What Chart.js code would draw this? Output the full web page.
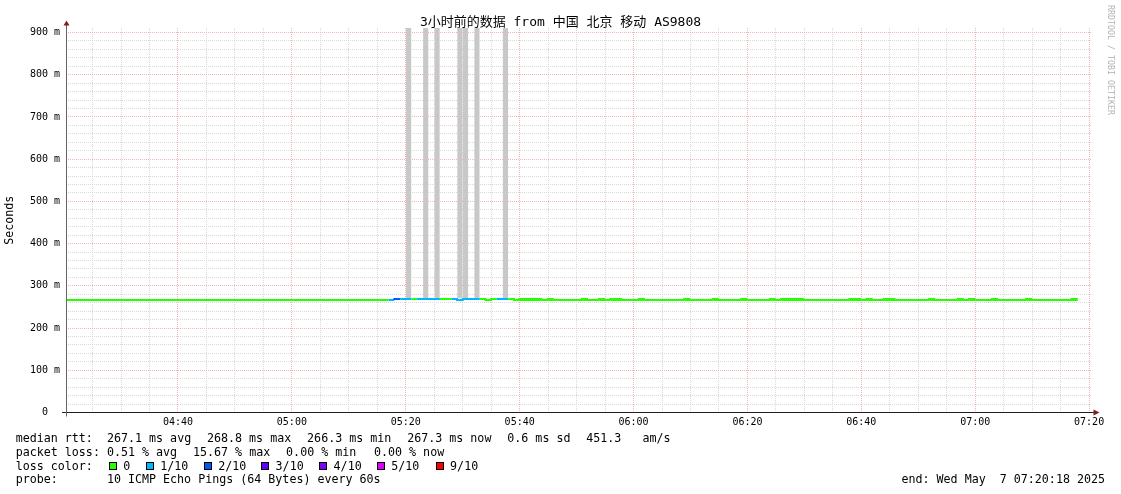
<!DOCTYPE html>
<html>
<head>
<meta charset="utf-8">
<title>SmokePing</title>
<script src="https://cdn.jsdelivr.net/npm/chart.js@4.4.1/dist/chart.umd.min.js"></script>
<style>
  body { margin: 0; background: #fff; }
  #wrap { position: relative; width: 1121px; height: 494px; overflow: hidden;
          font-family: "DejaVu Sans Mono", "Noto Sans CJK SC", monospace; color: #000; }
  #chart { position: absolute; left: 0; top: 0; }
  .txt { position: absolute; white-space: pre; font-size: 11.67px; line-height: 14px; }
  #title { position: absolute; left: 0; top: 13.5px; width: 1121px; text-align: center;
           font-size: 13px; line-height: 16px; white-space: pre; }
  #mark { position: absolute; left: 1115px; top: 4.5px; transform-origin: 0 0; transform: rotate(90deg);
          font-size: 8.3px; line-height: 8px; color: #b4b4b4; white-space: pre; }
  .sw { position: absolute; width: 6px; height: 6px; border: 1px solid #000; top: 462.3px; }
</style>
</head>
<body>
<div id="wrap">
  <canvas id="chart" width="1121" height="494"></canvas>
  <div id="title">3小时前的数据 from 中国 北京 移动 AS9808</div>
  <div id="mark">RRDTOOL / TOBI OETIKER</div>
  <div id="legend"></div>
  <div class="txt" style="left:15.7px;top:472.45px">probe:       10 ICMP Echo Pings (64 Bytes) every 60s</div>
  <div class="txt" style="left:901.5px;top:472.45px">end: Wed May  7 07:20:18 2025</div>
</div>
<script>
// time axis is in minutes after 04:00, window 04:20:20 .. 07:20:20
const X_MIN = 20.333;
const X_MAX = 200.333;
const Y_MAX = 910.7;

const xMajor = [40, 60, 80, 100, 120, 140, 160, 180, 200];
const xTickLabels = ['04:40', '05:00', '05:20', '05:40', '06:00', '06:20', '06:40', '07:00', '07:20'];
const yMajor = [0, 100, 200, 300, 400, 500, 600, 700, 800, 900];
const yTickLabels = ['0  ', '100 m', '200 m', '300 m', '400 m', '500 m', '600 m', '700 m', '800 m', '900 m'];

// one sample per minute, each value covers the minute ending at its time
const firstMinute = 20;
const median = [
  266.4, 266.4, 266.4, 266.4, 266.4, 266.4, 266.4, 266.4, 266.4, 266.4, // 04:20
  266.4, 266.4, 266.4, 266.4, 266.4, 266.4, 266.4, 266.4, 266.4, 266.4, // 04:30
  266.4, 266.4, 266.4, 266.4, 266.4, 266.4, 266.4, 266.4, 266.4, 266.4, // 04:40
  266.4, 266.4, 266.4, 266.4, 266.4, 266.4, 266.4, 266.4, 266.4, 266.4, // 04:50
  266.4, 266.4, 266.4, 266.4, 266.4, 266.4, 266.4, 266.4, 266.4, 266.4, // 05:00
  266.4, 266.4, 266.4, 266.4, 266.4, 266.4, 266.4, 266.4, 266.4, 268.8, // 05:10
  268.8, 268.8, 268.8, 268.8, 268.8, 268.8, 268.8, 268.8, 268.8, 268.8, // 05:20
  266.4, 268.8, 268.8, 268.8, 268.8, 266.4, 268.8, 268.8, 268.8, 268.8, // 05:30
  266.4, 267.6, 267.6, 267.6, 267.6, 266.4, 267.6, 266.4, 266.4, 266.4, // 05:40
  266.4, 266.4, 267.6, 266.4, 266.4, 267.6, 266.4, 267.6, 267.6, 266.4, // 05:50
  266.4, 266.4, 267.6, 266.4, 266.4, 266.4, 266.4, 266.4, 266.4, 266.4, // 06:00
  267.6, 266.4, 266.4, 266.4, 266.4, 267.6, 266.4, 266.4, 266.4, 266.4, // 06:10
  267.6, 266.4, 266.4, 266.4, 266.4, 267.6, 266.4, 267.6, 267.6, 267.6, // 06:20
  267.6, 266.4, 266.4, 266.4, 266.4, 266.4, 266.4, 266.4, 266.4, 267.6, // 06:30
  267.6, 266.4, 267.6, 266.4, 266.4, 267.6, 267.6, 266.4, 266.4, 266.4, // 06:40
  266.4, 266.4, 266.4, 267.6, 266.4, 266.4, 266.4, 266.4, 267.6, 266.4, // 06:50
  267.6, 266.4, 266.4, 266.4, 267.6, 266.4, 266.4, 266.4, 266.4, 266.4, // 07:00
  267.6, 266.4, 266.4, 266.4, 266.4, 266.4, 266.4, 266.4, 267.6          // 07:10
];
// lost pings out of 10
const loss = [
  0, 0, 0, 0, 0, 0, 0, 0, 0, 0,
  0, 0, 0, 0, 0, 0, 0, 0, 0, 0,
  0, 0, 0, 0, 0, 0, 0, 0, 0, 0,
  0, 0, 0, 0, 0, 0, 0, 0, 0, 0,
  0, 0, 0, 0, 0, 0, 0, 0, 0, 0,
  0, 0, 0, 0, 0, 0, 0, 0, 1, 2,
  1, 1, 0, 1, 1, 1, 1, 0, 0, 1,
  1, 1, 1, 1, 0, 0, 0, 1, 1, 0,
  0, 0, 0, 0, 0, 0, 0, 0, 0, 0,
  0, 0, 0, 0, 0, 0, 0, 0, 0, 0,
  0, 0, 0, 0, 0, 0, 0, 0, 0, 0,
  0, 0, 0, 0, 0, 0, 0, 0, 0, 0,
  0, 0, 0, 0, 0, 0, 0, 0, 0, 0,
  0, 0, 0, 0, 0, 0, 0, 0, 0, 0,
  0, 0, 0, 0, 0, 0, 0, 0, 0, 0,
  0, 0, 0, 0, 0, 0, 0, 0, 0, 0,
  0, 0, 0, 0, 0, 0, 0, 0, 0, 0,
  0, 0, 0, 0, 0, 0, 0, 0, 0
];

// smoke (ping spread) that runs off the top of the graph
const smokeEnd = [81, 84, 86, 90, 91, 93, 98];
const smokeLow = [271, 271, 271, 271, 271, 271, 271];
const smokeHigh = [1000, 1000, 1000, 1000, 1000, 1000, 1000];

const lossSteps = [0, 1, 2, 3, 4, 5, 9];
const lossNames = ['0', '1/10', '2/10', '3/10', '4/10', '5/10', '9/10'];
const lossColors = ['#26ff00', '#00b8ff', '#0059ff', '#5e00ff', '#7e00ff', '#dd00ff', '#ff0000'];

// legend rows: [text, left px, top px]
const legendRows = [
  ['median rtt:', 15.7, 431.25], ['267.1 ms avg', 106.96, 431.25], ['268.8 ms max', 207.0, 431.25],
  ['266.3 ms min', 307.1, 431.25], ['267.3 ms now', 407.2, 431.25], ['0.6 ms sd', 507.3, 431.25],
  ['451.3   am/s', 586.3, 431.25],
  ['packet loss:', 15.7, 444.95], ['0.51 % avg', 106.96, 444.95], ['15.67 % max', 193.0, 444.95],
  ['0.00 % min', 286.1, 444.95], ['0.00 % now', 374.0, 444.95],
  ['loss color:', 15.7, 458.75]
];

const GRID = '#d9d9d9';
const MGRID = '#f3b4b4';
const FONT = 'DejaVu Sans Mono';

function lossColor(n) {
  let k = 0;
  lossSteps.forEach((s, i) => { if (n >= s) k = i; });
  return lossColors[k];
}

const legendEl = document.getElementById('legend');
legendRows.forEach(([text, left, top]) => {
  const d = document.createElement('div');
  d.className = 'txt';
  d.style.left = left + 'px';
  d.style.top = top + 'px';
  d.textContent = text;
  legendEl.appendChild(d);
});

// legend swatches for loss colours
const swatchX = [108.7, 145.7, 203.7, 261, 319, 376.7, 435.5];
lossNames.forEach((name, i) => {
  const sw = document.createElement('div');
  sw.className = 'sw';
  sw.style.left = swatchX[i] + 'px';
  sw.style.background = lossColors[i];
  legendEl.appendChild(sw);
  const t = document.createElement('div');
  t.className = 'txt';
  t.style.left = (swatchX[i] + 14.6) + 'px';
  t.style.top = '458.75px';
  t.textContent = name;
  legendEl.appendChild(t);
});

const medianPts = median.map((v, i) => ({ x: firstMinute + i, y: v }));
const smokeBars = smokeEnd.map((m, i) => ({ x: m - 0.5, y: [smokeLow[i], smokeHigh[i]] }));

// rrdtool draws a median that falls between pixel rows one row thicker
function medianWidth(v) {
  return (v > 267 && v < 268) ? 3 : 2;
}

const axisPlugin = {
  id: 'rrdAxes',
  afterDatasetsDraw(chart) {
    const { ctx, chartArea: a } = chart;
    const x0 = a.left + 0.5;
    const y0 = a.bottom;
    ctx.save();
    ctx.lineWidth = 1;
    ctx.strokeStyle = '#1f1f1f';
    ctx.beginPath();
    ctx.moveTo(a.left - 4, y0);
    ctx.lineTo(a.right + 3, y0);
    ctx.stroke();
    ctx.strokeStyle = '#666';
    ctx.beginPath();
    ctx.moveTo(x0, y0 + 4);
    ctx.lineTo(x0, a.top - 4);
    ctx.stroke();
    ctx.fillStyle = '#801f1f';
    ctx.beginPath();
    ctx.moveTo(a.right + 2.5, y0 - 3);
    ctx.lineTo(a.right + 8.5, y0);
    ctx.lineTo(a.right + 2.5, y0 + 3);
    ctx.fill();
    ctx.beginPath();
    ctx.moveTo(x0 - 3, a.top - 2.5);
    ctx.lineTo(x0, a.top - 7.5);
    ctx.lineTo(x0 + 3, a.top - 2.5);
    ctx.fill();
    ctx.restore();
  }
};

Chart.defaults.font.family = FONT;
Chart.defaults.color = '#000';

new Chart(document.getElementById('chart'), {
  type: 'bar',
  data: {
    datasets: [
      {
        type: 'bar',
        data: smokeBars,
        backgroundColor: '#c8c8c8',
        borderWidth: 0,
        barPercentage: 0.9,
        categoryPercentage: 1,
        grouped: false,
        order: 2
      },
      {
        type: 'line',
        data: medianPts,
        stepped: 'after',
        borderWidth: 2,
        borderColor: lossColors[0],
        borderCapStyle: 'butt',
        pointRadius: 0,
        fill: false,
        clip: 0,
        order: 1,
        segment: {
          borderColor: ctx => lossColor(loss[ctx.p1DataIndex]),
          borderWidth: ctx => medianWidth(median[ctx.p1DataIndex])
        }
      }
    ]
  },
  options: {
    responsive: false,
    animation: false,
    layout: { padding: { top: 28, right: 30, bottom: 0, left: 0 } },
    plugins: { legend: { display: false }, tooltip: { enabled: false }, title: { display: false } },
    scales: {
      x: {
        type: 'linear',
        min: X_MIN,
        max: X_MAX,
        offset: false,
        afterFit: s => { s.height = 81.5; },
        afterBuildTicks: s => {
          const t = [];
          for (let m = 25; m <= 200; m += 5) t.push({ value: m });
          s.ticks = t;
        },
        grid: {
          offset: false,
          drawTicks: false,
          lineWidth: 1,
          color: ctx => (ctx.tick && xMajor.includes(ctx.tick.value)) ? MGRID : GRID
        },
        border: { display: false, dash: [1, 1] },
        ticks: {
          autoSkip: false,
          maxRotation: 0,
          padding: 4,
          font: { family: FONT, size: 10 },
          color: '#000',
          callback: v => {
            const k = xMajor.indexOf(v);
            return k < 0 ? '' : xTickLabels[k];
          }
        }
      },
      y: {
        type: 'linear',
        min: 0,
        max: Y_MAX,
        afterFit: s => { s.width = 66; },
        afterBuildTicks: s => {
          const t = [];
          for (let v = 0; v <= 900; v += 20) t.push({ value: v });
          s.ticks = t;
        },
        grid: {
          drawTicks: false,
          lineWidth: 1,
          color: ctx => (ctx.tick && yMajor.includes(ctx.tick.value)) ? MGRID : GRID
        },
        border: { display: false, dash: [1, 1] },
        title: {
          display: true,
          text: 'Seconds',
          font: { family: FONT, size: 11.67 },
          color: '#000',
          padding: { top: 3, bottom: 0 }
        },
        ticks: {
          autoSkip: false,
          padding: 6,
          font: { family: FONT, size: 10 },
          color: '#000',
          callback: v => {
            const k = yMajor.indexOf(v);
            return k < 0 ? '' : yTickLabels[k];
          }
        }
      }
    }
  },
  plugins: [axisPlugin]
});
</script>
</body>
</html>
